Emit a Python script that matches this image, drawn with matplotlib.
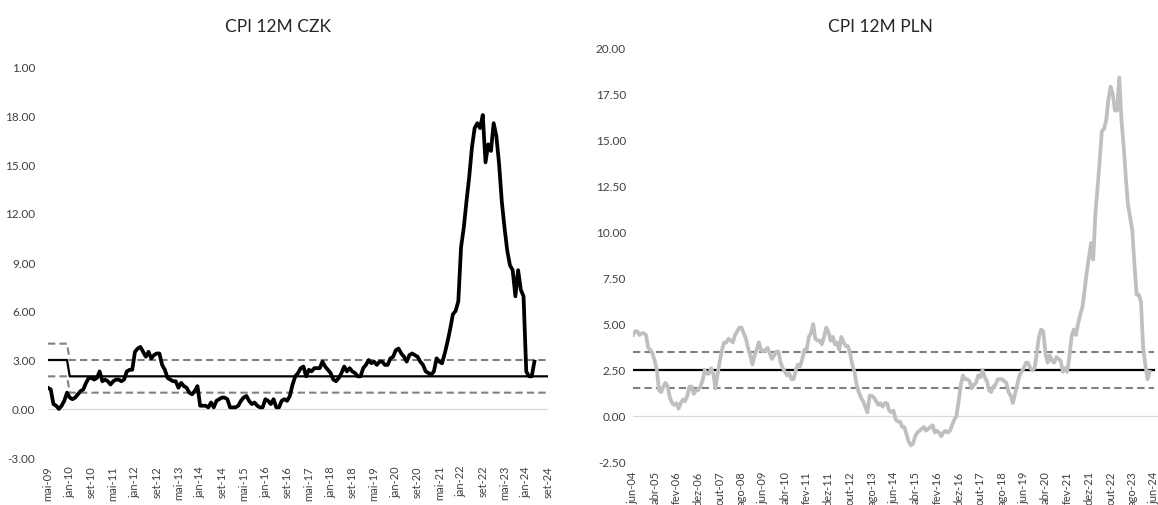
import numpy as np
import pandas as pd
import matplotlib.pyplot as plt

plt.rcParams['font.family'] = ['Lato', 'DejaVu Sans']

# month names for the x labels
meses = ['jan', 'fev', 'mar', 'abr', 'mai', 'jun', 'jul', 'ago', 'set', 'out', 'nov', 'dez']

# CPI 12M CZK (% y/y), monthly from mai-09
czk_start = '2009-05'
czk_end_axis = '2024-09'
czk_cpi = [
    1.3, 1.2, 0.3, 0.2, 0.0, 0.2, 0.5, 1.0,                         # 2009
    0.7, 0.6, 0.7, 0.9, 1.1, 1.2, 1.6, 1.9, 1.9, 1.8, 1.9, 2.3,     # 2010
    1.7, 1.8, 1.7, 1.5, 1.7, 1.8, 1.8, 1.7, 1.8, 2.3, 2.4, 2.4,     # 2011
    3.5, 3.7, 3.8, 3.5, 3.2, 3.5, 3.1, 3.3, 3.4, 3.4, 2.7, 2.4,     # 2012
    1.9, 1.8, 1.7, 1.7, 1.3, 1.6, 1.4, 1.3, 1.0, 0.9, 1.1, 1.4,     # 2013
    0.2, 0.2, 0.2, 0.1, 0.4, 0.1, 0.5, 0.6, 0.7, 0.7, 0.6, 0.1,     # 2014
    0.1, 0.1, 0.2, 0.5, 0.7, 0.8, 0.5, 0.3, 0.4, 0.2, 0.1, 0.1,     # 2015
    0.6, 0.5, 0.3, 0.6, 0.1, 0.1, 0.5, 0.6, 0.5, 0.8, 1.5, 2.0,     # 2016
    2.2, 2.5, 2.6, 2.0, 2.4, 2.3, 2.5, 2.5, 2.5, 2.9, 2.6, 2.4,     # 2017
    2.2, 1.8, 1.7, 1.9, 2.2, 2.6, 2.3, 2.5, 2.3, 2.2, 2.0, 2.0,     # 2018
    2.5, 2.7, 3.0, 2.8, 2.9, 2.7, 2.9, 2.9, 2.7, 2.7, 3.1, 3.2,     # 2019
    3.6, 3.7, 3.4, 3.2, 2.9, 3.3, 3.4, 3.3, 3.2, 2.9, 2.7, 2.3,     # 2020
    2.2, 2.1, 2.3, 3.1, 2.9, 2.8, 3.4, 4.1, 4.9, 5.8, 6.0, 6.6,     # 2021
    9.9, 11.1, 12.7, 14.2, 16.0, 17.2, 17.5, 17.2, 18.0, 15.1, 16.2, 15.8,  # 2022
    17.5, 16.7, 15.0, 12.7, 11.1, 9.7, 8.8, 8.5, 6.9, 8.5, 7.3, 6.9,        # 2023
    2.3, 2.0, 2.0, 2.9,                                             # 2024
]
# CNB target 3% +-1 until dez-09, then 2% +-1
czk_target_dates = ['2009-05', '2009-12', '2010-01', '2024-09']
czk_target = [3.0, 3.0, 2.0, 2.0]
czk_upper = [4.0, 4.0, 3.0, 3.0]
czk_lower = [2.0, 2.0, 1.0, 1.0]
czk_yticks = [-3, 0, 3, 6, 9, 12, 15, 18, 21]
czk_ylabels = ['-3.00', '0.00', '3.00', '6.00', '9.00', '12.00', '15.00', '18.00', '1.00']

# CPI 12M PLN (% y/y), monthly from jun-04
pln_start = '2004-06'
pln_end_axis = '2024-06'
pln_cpi = [
    4.4, 4.6, 4.6, 4.4, 4.5, 4.5, 4.4,                              # 2004
    3.7, 3.6, 3.4, 3.0, 2.5, 1.4, 1.3, 1.6, 1.8, 1.6, 1.0, 0.7,     # 2005
    0.6, 0.7, 0.4, 0.7, 0.9, 0.8, 1.1, 1.6, 1.6, 1.2, 1.4, 1.4,     # 2006
    1.6, 1.9, 2.5, 2.3, 2.3, 2.6, 2.3, 1.5, 2.3, 3.0, 3.6, 4.0,     # 2007
    4.0, 4.2, 4.1, 4.0, 4.4, 4.6, 4.8, 4.8, 4.5, 4.2, 3.7, 3.3,     # 2008
    2.8, 3.3, 3.6, 4.0, 3.6, 3.5, 3.6, 3.7, 3.4, 3.1, 3.3, 3.5,     # 2009
    3.5, 2.9, 2.6, 2.4, 2.2, 2.3, 2.0, 2.0, 2.5, 2.8, 2.7, 3.1,     # 2010
    3.6, 3.6, 4.3, 4.5, 5.0, 4.2, 4.1, 4.1, 3.9, 4.3, 4.8, 4.6,     # 2011
    4.1, 4.3, 3.9, 4.0, 3.6, 4.3, 4.0, 3.8, 3.8, 3.4, 2.8, 2.4,     # 2012
    1.7, 1.3, 1.0, 0.8, 0.5, 0.2, 1.1, 1.1, 1.0, 0.8, 0.6, 0.7,     # 2013
    0.5, 0.7, 0.7, 0.3, 0.2, 0.3, -0.2, -0.3, -0.3, -0.6, -0.6, -1.0,   # 2014
    -1.4, -1.6, -1.5, -1.1, -0.9, -0.8, -0.7, -0.6, -0.8, -0.7, -0.6, -0.5,  # 2015
    -0.9, -0.8, -0.9, -1.1, -0.9, -0.8, -0.9, -0.8, -0.5, -0.2, 0.0, 0.8,  # 2016
    1.7, 2.2, 2.0, 2.0, 1.9, 1.5, 1.7, 1.8, 2.2, 2.1, 2.5, 2.1,     # 2017
    1.9, 1.4, 1.3, 1.6, 1.7, 2.0, 2.0, 2.0, 1.9, 1.8, 1.3, 1.1,     # 2018
    0.7, 1.2, 1.7, 2.2, 2.4, 2.6, 2.9, 2.9, 2.6, 2.5, 2.6, 3.4,     # 2019
    4.3, 4.7, 4.6, 3.4, 2.9, 3.3, 3.0, 2.9, 3.2, 3.1, 3.0, 2.4,     # 2020
    2.6, 2.4, 3.2, 4.3, 4.7, 4.4, 5.0, 5.5, 5.9, 6.8, 7.8, 8.6,     # 2021
    9.4, 8.5, 11.0, 12.4, 13.9, 15.5, 15.6, 16.1, 17.2, 17.9, 17.5, 16.6,  # 2022
    16.6, 18.4, 16.1, 14.7, 13.0, 11.5, 10.8, 10.1, 8.2, 6.6, 6.6, 6.2,    # 2023
    3.7, 2.8, 2.0, 2.4,                                             # 2024
]
# NBP target 2.5% +-1
pln_target_dates = ['2004-06', '2024-06']
pln_target = [2.5, 2.5]
pln_upper = [3.5, 3.5]
pln_lower = [1.5, 1.5]
pln_yticks = [-2.5, 0, 2.5, 5, 7.5, 10, 12.5, 15, 17.5, 20]
pln_ylabels = ['{:.2f}'.format(v) for v in pln_yticks]


def month_pos(dates, start):
    # months elapsed since the first observation
    p0 = pd.Period(start, 'M')
    return np.array([(pd.Period(d, 'M') - p0).n for d in dates])


def tick_labels(start, end, step):
    per = pd.period_range(start, end, freq='M')[::step]
    return ['{}-{:02d}'.format(meses[p.month - 1], p.year % 100) for p in per]


def plot_panel(ax, start, end, cpi, cpi_color, tdates, target, upper, lower,
               step, yticks, ylabels, ypad, xpad, xsize):
    x_end = month_pos([end], start)[0]
    xt = month_pos(tdates, start)
    ax.axhline(0, color='#d9d9d9', lw=0.9, zorder=1)
    ax.plot(xt, upper, color='#808080', lw=1.5, ls=(0, (3.5, 2)), zorder=2)
    ax.plot(xt, lower, color='#808080', lw=1.5, ls=(0, (3.5, 2)), zorder=2)
    ax.plot(xt, target, color='black', lw=1.6, zorder=3)
    ax.plot(np.arange(len(cpi)), cpi, color=cpi_color, lw=2.7, zorder=4,
            solid_joinstyle='round')
    ax.set_xticks(np.arange(0, x_end + 1, step))
    ax.set_xticklabels(tick_labels(start, end, step), rotation=90)
    ax.set_yticks(yticks)
    ax.set_yticklabels(ylabels)
    ax.tick_params(axis='y', length=0, pad=ypad, labelsize=8.5, labelcolor='#404040')
    ax.tick_params(axis='x', length=0, pad=xpad, labelsize=xsize, labelcolor='#404040')
    for s in ax.spines.values():
        s.set_visible(False)
    return x_end


fig = plt.figure(figsize=(11.58, 5.06), dpi=100)

ax1 = fig.add_axes([48 / 1158, 47 / 506, 500 / 1158, 392 / 506])
n1 = plot_panel(ax1, czk_start, czk_end_axis, czk_cpi, 'black', czk_target_dates,
                czk_target, czk_upper, czk_lower, 8, czk_yticks, czk_ylabels, 9, 5, 8)
ax1.set_xlim(0, n1)
ax1.set_ylim(-3, 21)

ax2 = fig.add_axes([633 / 1158, 43 / 506, 525 / 1158, 414 / 506])
n2 = plot_panel(ax2, pln_start, pln_end_axis, pln_cpi, '#bfbfbf', pln_target_dates,
                pln_target, pln_upper, pln_lower, 10, pln_yticks, pln_ylabels, 5, 6, 8)
ax2.set_xlim(0, n2 * 525 / 521)
ax2.set_ylim(-2.5, 20)

fig.text(278 / 1158, 1 - 27 / 506, 'CPI 12M CZK', ha='center', va='center', fontsize=12.5, color='#262626')
fig.text(880 / 1158, 1 - 27 / 506, 'CPI 12M PLN', ha='center', va='center', fontsize=12.5, color='#262626')

fig.savefig('out.png', dpi=100, facecolor='white')
